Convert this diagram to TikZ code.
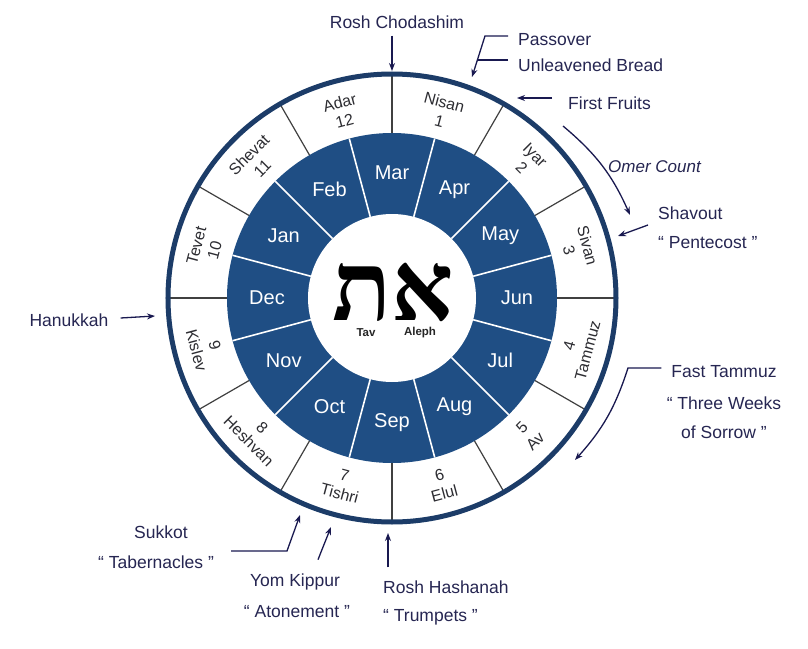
\documentclass[tikz,border=0pt]{standalone}
\usepackage{fontspec}
\setmainfont{Liberation Sans}
\newfontfamily\hebfont[Script=Hebrew]{Liberation Serif}
\TeXXeTstate=1
\usetikzlibrary{arrows.meta}
\definecolor{ringblue}{RGB}{31,78,132}
\definecolor{rimblue}{RGB}{28,60,104}
\definecolor{anno}{RGB}{38,38,82}
\definecolor{arrowc}{RGB}{25,25,80}
\definecolor{lbl}{RGB}{45,45,50}
\begin{document}
\begin{tikzpicture}[x=1pt,y=1pt,
  ann/.style={text=anno, font=\fontsize{17.5}{20}\selectfont, inner sep=0pt},
  conn/.style={draw=arrowc, line width=1.3pt, -{Stealth[length=8pt,width=6pt]}},
  plainconn/.style={draw=arrowc, line width=1.3pt},
  ringlbl/.style={font=\fontsize{16}{19}\selectfont, text=lbl, align=center, inner sep=0pt},
  bluelbl/.style={font=\fontsize{20}{22}\selectfont, text=white, inner sep=0pt},
  smalllbl/.style={font=\bfseries\fontsize{11.5}{13}\selectfont, text=black!85, inner sep=0pt}]
\useasboundingbox (-392,-350) rectangle (416,298);
\fill[white] (-392,-350) rectangle (416,298);
% rings
\fill[ringblue] (0,0) circle (165);
\fill[white] (0,0) circle (84);
\foreach \a in {15,45,...,345} \draw[white, line width=1.6pt] (\a:84) -- (\a:165);
\foreach \a in {0,30,...,330} \draw[black!75, line width=1.2pt] (\a:165) -- (\a:224);
\draw[rimblue, line width=5pt] (0,0) circle (224);
% Gregorian months
\foreach \m [count=\i from 0] in {Mar,Apr,May,Jun,Jul,Aug,Sep,Oct,Nov,Dec,Jan,Feb}
  \node[bluelbl] (g\i) at ({90-30*\i}:125) {\m};
% Hebrew months, upper half
\foreach \a/\n/\k in {75/Nisan/1,45/Iyar/2,15/Sivan/3,165/Tevet/10,135/Shevat/11,105/Adar/12}
  \node[ringlbl, rotate=\a-90] (h\k) at (\a:193) {\n\\\k};
% Hebrew months, lower half
\foreach \a/\n/\k in {-15/Tammuz/4,-45/Av/5,-75/Elul/6,-105/Tishri/7,-135/Heshvan/8,-165/Kislev/9}
  \node[ringlbl, rotate=\a+90] (h\k) at (\a:193) {\k\\\n};
% centre
\node[inner sep=0pt] (heb) at (1,6) {\hebfont\bfseries\fontsize{97}{97}\selectfont\beginR את\endR};
\node[smalllbl] (tav) at (-26,-35) {Tav};
\node[smalllbl] (aleph) at (28,-35) {Aleph};
% annotations
\node[ann] (rc) at (5,276) {Rosh Chodashim};
\coordinate (rcT) at (0,227);
\draw[conn] ([yshift=-7pt]rc.south -| rcT) -- (rcT);

\node[ann, anchor=west] (pass) at (126,258) {Passover};
\node[ann, anchor=west] (unl) at (126,233) {Unleavened Bread};
\coordinate (passK) at (93,262);
\coordinate (passT) at (80,221);
\coordinate (unlJ) at (85.4,238);
\draw[conn] ([shift={(-10,4)}]pass.west) -- (passK) -- (passT);
\draw[plainconn] ([shift={(-10,5)}]unl.west) -- (unlJ);

\node[ann, anchor=west] (ff) at (176,195) {First Fruits};
\coordinate (ffT) at (125,200);
\draw[conn] ([shift={(-16,5)}]ff.west) -- (ffT);

\node[ann, anchor=west, font=\itshape\fontsize{17}{20}\selectfont] (omer) at (216,131) {Omer Count};
\coordinate (omerA) at (171,172);
\coordinate (omerB) at (238,83);
\draw[conn] (omerA) to[bend left=13] (omerB);

\node[ann, anchor=west] (shav) at (266,85) {Shavout};
\node[ann, anchor=west] (pent) at (266,55) {“ Pentecost ”};
\coordinate (shavT) at (226,62);
\draw[conn] ([shift={(-10,-12)}]shav.west) -- (shavT);

\node[ann] (fast1) at (332,-74) {Fast Tammuz};
\node[ann] (fast2) at (332,-105) {“ Three Weeks};
\node[ann] (fast3) at (332,-134) {of Sorrow ”};
\coordinate (fastK) at (236,-70);
\coordinate (fastT) at (183,-162);
\draw[conn] ([shift={(-10,4)}]fast1.west) -- (fastK) to[bend left=12] (fastT);

\node[ann] (han) at (-323,-22) {Hanukkah};
\coordinate (hanT) at (-237,-18);
\draw[conn] ([shift={(12,2)}]han.east) -- (hanT);

\node[ann] (suk) at (-231,-234) {Sukkot};
\node[ann] (tab) at (-236,-264) {“ Tabernacles ”};
\coordinate (sukK) at (-105,-253);
\coordinate (sukT) at (-92,-217);
\draw[conn] ([shift={(17,11)}]tab.east) -- (sukK) -- (sukT);

\node[ann] (yk) at (-97,-284) {Yom Kippur};
\node[ann] (atn) at (-95,-314) {“ Atonement ”};
\coordinate (ykT) at (-61,-229);
\draw[conn] ([shift={(23,14)}]yk.north) -- (ykT);

\node[ann, anchor=west] (rh) at (-9,-289) {Rosh Hashanah};
\node[ann, anchor=west] (trp) at (-9,-319) {“ Trumpets ”};
\coordinate (rhT) at (-4,-235);
\draw[conn] ([shift={(5,13)}]rh.north west) -- (rhT);
\end{tikzpicture}
\end{document}
